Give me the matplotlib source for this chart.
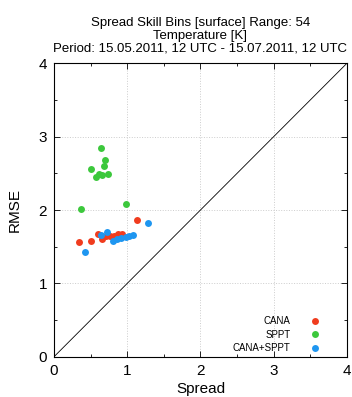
import numpy as np
import matplotlib
matplotlib.use("Agg")
import matplotlib.pyplot as plt
from matplotlib.ticker import MultipleLocator

plt.rcParams['font.family'] = ['Liberation Sans', 'DejaVu Sans']

# spread / rmse per bin
cana_x = [0.34, 0.51, 0.60, 0.65, 0.71, 0.76, 0.82, 0.88, 0.93, 1.14]
cana_y = [1.56, 1.58, 1.67, 1.61, 1.64, 1.65, 1.64, 1.67, 1.68, 1.86]
sppt_x = [0.37, 0.51, 0.57, 0.61, 0.64, 0.66, 0.68, 0.70, 0.74, 0.98]
sppt_y = [2.02, 2.56, 2.45, 2.49, 2.84, 2.47, 2.60, 2.68, 2.49, 2.08]
both_x = [0.43, 0.64, 0.73, 0.81, 0.86, 0.92, 0.98, 1.03, 1.08, 1.29]
both_y = [1.43, 1.66, 1.70, 1.58, 1.60, 1.62, 1.63, 1.64, 1.66, 1.82]

fig = plt.figure(figsize=(3.52, 3.97), dpi=100)
ax = fig.add_axes([0.153, 0.101, 0.833, 0.740])

ax.plot([0, 4], [0, 4], color='black', lw=0.6)
ax.plot(cana_x, cana_y, 'o', color='#f03c1e', ms=5, mew=0, label='CANA')
ax.plot(sppt_x, sppt_y, 'o', color='#3cc83c', ms=5, mew=0, label='SPPT')
ax.plot(both_x, both_y, 'o', color='#1e96f0', ms=5, mew=0, label='CANA+SPPT')

ax.set_xlim(0, 4)
ax.set_ylim(0, 4)
ax.xaxis.set_major_locator(MultipleLocator(1))
ax.yaxis.set_major_locator(MultipleLocator(1))
ax.xaxis.set_minor_locator(MultipleLocator(0.5))
ax.yaxis.set_minor_locator(MultipleLocator(0.5))
ax.tick_params(which='both', direction='in', top=True, right=True, labelsize=11)
ax.tick_params(which='major', length=4, width=0.6, pad=5)
ax.tick_params(which='minor', length=2.5, width=0.6)
ax.grid(True, which='major', color='#cccccc', linestyle=':', lw=0.7)
for s in ax.spines.values():
    s.set_linewidth(0.8)

ax.set_xlabel('Spread', fontsize=11, labelpad=3)
ax.set_ylabel('RMSE', fontsize=11, labelpad=12)
ax.set_title('Spread Skill Bins [surface] Range: 54\nTemperature [K]\n'
             'Period: 15.05.2011, 12 UTC - 15.07.2011, 12 UTC',
             fontsize=9.5, linespacing=1.05, pad=8.5)

ax.legend(loc='lower right', bbox_to_anchor=(0.92, 0.0), frameon=False,
          fontsize=7, markerfirst=False, handletextpad=2.0, labelspacing=0.35,
          borderaxespad=0.0, handlelength=1.0)

fig.savefig('out.png', dpi=100)
